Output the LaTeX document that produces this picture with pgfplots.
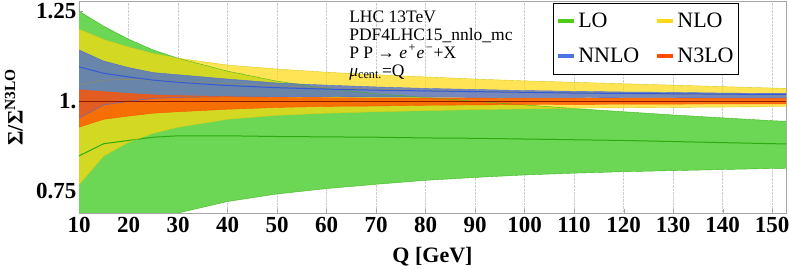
\documentclass[border=0pt]{standalone}
\usepackage{fontspec}
\setmainfont{Liberation Serif}
\usepackage{pgfplots}
\pgfplotsset{compat=1.18}
\usepackage{pgfplotstable}
\usepgfplotslibrary{fillbetween}

\definecolor{LOfill}{RGB}{108,214,85}
\definecolor{LOline}{RGB}{60,185,25}
\definecolor{LOcen}{RGB}{45,170,15}
\definecolor{NLOfill}{rgb}{1,0.85,0.05}
\definecolor{NLOline}{rgb}{0.85,0.8,0.1}
\definecolor{NLOcen}{rgb}{0.55,0.55,0.4}
\definecolor{NNLOfill}{rgb}{0.24,0.39,0.9}
\definecolor{NNLOline}{rgb}{0.3,0.42,0.85}
\definecolor{NNLOcen}{rgb}{0.2,0.35,0.85}
\definecolor{N3LOfill}{rgb}{1,0.33,0}
\definecolor{N3LOcen}{rgb}{0.55,0.1,0.0}
\definecolor{legLO}{rgb}{0.3,0.8,0.1}
\definecolor{legNLO}{rgb}{1,0.85,0.1}
\definecolor{legNNLO}{rgb}{0.3,0.45,0.9}
\definecolor{legN3LO}{rgb}{1,0.3,0}

\pgfplotstableread{
Q lo c hi
10 0.55 0.847 1.250
15 0.60 0.881 1.208
20 0.64 0.890 1.172
25 0.67 0.899 1.142
30 0.688 0.903 1.119
40 0.720 0.903 1.083
50 0.741 0.901 1.055
60 0.756 0.900 1.035
70 0.768 0.899 1.020
80 0.779 0.897 1.010
90 0.787 0.896 0.999
100 0.794 0.894 0.989
110 0.799 0.892 0.979
120 0.803 0.890 0.970
130 0.806 0.887 0.961
140 0.809 0.884 0.953
150 0.812 0.881 0.945
155 0.813 0.880 0.942
}\tLO

\pgfplotstableread{
Q lo c hi
10 0.767 1.044 1.200
15 0.847 1.058 1.171
20 0.885 1.060 1.150
25 0.910 1.058 1.132
30 0.927 1.054 1.119
40 0.949 1.048 1.100
50 0.960 1.042 1.089
60 0.966 1.037 1.080
70 0.970 1.033 1.073
80 0.973 1.030 1.067
90 0.976 1.027 1.061
100 0.978 1.025 1.056
110 0.980 1.023 1.052
120 0.981 1.021 1.048
130 0.982 1.019 1.044
140 0.983 1.018 1.040
150 0.984 1.017 1.036
155 0.984 1.016 1.034
}\tNLO

\pgfplotstableread{
Q lo c hi
10 0.952 1.095 1.142
15 0.989 1.077 1.111
20 0.999 1.067 1.093
25 1.007 1.058 1.079
30 1.010 1.052 1.073
40 1.012 1.043 1.061
50 1.012 1.037 1.050
60 1.012 1.033 1.044
70 1.011 1.030 1.039
80 1.011 1.028 1.035
90 1.010 1.026 1.032
100 1.010 1.024 1.029
110 1.010 1.022 1.027
120 1.009 1.021 1.025
130 1.009 1.020 1.024
140 1.008 1.019 1.022
150 1.008 1.018 1.021
155 1.008 1.018 1.021
}\tNNLO

\pgfplotstableread{
Q lo c hi
10 0.927 1 1.031
15 0.949 1 1.026
20 0.958 1 1.021
25 0.966 1 1.017
30 0.970 1 1.015
40 0.977 1 1.012
50 0.982 1 1.010
60 0.985 1 1.009
70 0.986 1 1.008
80 0.988 1 1.008
90 0.989 1 1.008
100 0.990 1 1.007
120 0.991 1 1.007
150 0.992 1 1.007
155 0.992 1 1.007
}\tNTLO

\begin{document}
\begin{tikzpicture}
\begin{axis}[
  name=ax,
  scale only axis,
  width=707pt, height=211.5pt,
  xmin=10, xmax=152.8,
  ymin=0.688, ymax=1.277,
  axis line style={gray!70},
  tick style={gray!70},
  tick pos=left,
  tick align=inside,
  major tick length=4pt,
  xtick={10,20,...,150},
  ytick={0.75,1,1.25},
  yticklabels={0.75,1.,1.25},
  xmajorgrids,
  grid style={densely dotted, gray!40},
  /pgf/number format/assume math mode=true,
  x tick label style={font=\fontsize{23}{23}\selectfont\bfseries, yshift=-1pt},
  y tick label style={font=\fontsize{23}{23}\selectfont\bfseries, xshift=1pt},
  xlabel={\bfseries Q [GeV]},
  ylabel={\bfseries Σ/Σ\textsuperscript{N3LO}},
  every axis x label/.style={at={(rel axis cs:0.5,0)}, anchor=center, yshift=-44pt, font=\fontsize{22}{22}\selectfont},
  every axis y label/.style={at={(rel axis cs:-0.092,0.5)}, anchor=center, rotate=90, font=\fontsize{22}{22}\selectfont},
  legend columns=2,
  legend cell align=left,
  legend style={at={(0.9335,0.995)}, anchor=north east,
    font=\fontsize{22}{22}\selectfont, draw=black, line width=0.8pt,
    inner xsep=3pt, inner ysep=8pt, row sep=15pt,
    /tikz/every even column/.append style={column sep=14pt}},
  legend image code/.code={\draw[#1, line width=4pt] (0pt,0pt) -- (16pt,0pt);},
]
% LO
\addplot[draw=LOline, thin, name path=LOhi, forget plot] table[x=Q,y=hi]{\tLO};
\addplot[draw=LOline, thin, name path=LOlo, forget plot] table[x=Q,y=lo]{\tLO};
\addplot[fill=LOfill, draw=none, forget plot] fill between[of=LOhi and LOlo];
\addplot[draw=LOcen, line width=1pt, forget plot] table[x=Q,y=c]{\tLO};
% NLO
\addplot[draw=NLOline, thin, name path=NLOhi, forget plot] table[x=Q,y=hi]{\tNLO};
\addplot[draw=NLOline, thin, name path=NLOlo, forget plot] table[x=Q,y=lo]{\tNLO};
\addplot[fill=NLOfill, fill opacity=0.7, draw=none, forget plot] fill between[of=NLOhi and NLOlo];
\addplot[draw=NLOcen, semithick, forget plot] table[x=Q,y=c]{\tNLO};
% NNLO
\addplot[draw=NNLOline, thin, name path=NNLOhi, forget plot] table[x=Q,y=hi]{\tNNLO};
\addplot[draw=NNLOline, thin, name path=NNLOlo, forget plot] table[x=Q,y=lo]{\tNNLO};
\addplot[fill=NNLOfill, fill opacity=0.7, draw=none, forget plot] fill between[of=NNLOhi and NNLOlo];
\addplot[draw=NNLOcen, line width=1pt, forget plot] table[x=Q,y=c]{\tNNLO};
% N3LO
\addplot[draw=N3LOfill, thin, name path=NTLOhi, forget plot] table[x=Q,y=hi]{\tNTLO};
\addplot[draw=N3LOfill, thin, name path=NTLOlo, forget plot] table[x=Q,y=lo]{\tNTLO};
\addplot[fill=N3LOfill, fill opacity=0.8, draw=none, forget plot] fill between[of=NTLOhi and NTLOlo];
\addplot[draw=N3LOcen, thick, forget plot] table[x=Q,y=c]{\tNTLO};

\addlegendimage{legLO}\addlegendentry{LO}
\addlegendimage{legNLO}\addlegendentry{NLO}
\addlegendimage{legNNLO}\addlegendentry{NNLO}
\addlegendimage{legN3LO}\addlegendentry{N3LO}

\node[anchor=north west, align=left, inner sep=0pt, font=\fontsize{17.5}{18}\selectfont]
  at (rel axis cs:0.382,0.958)
  {LHC 13TeV\\PDF4LHC15\_nnlo\_mc\\P P → \textit{e}\kern1.5pt\textsuperscript{+}\kern0.5pt\textit{e}\kern1.5pt\textsuperscript{−}\kern0.5pt+X\\\textit{μ}\textsubscript{cent.}=Q};
\end{axis}
\pgfresetboundingbox
\path ([xshift=-79pt,yshift=-57pt]ax.south west) rectangle ([xshift=3pt,yshift=1.5pt]ax.north east);
\end{tikzpicture}
\end{document}
